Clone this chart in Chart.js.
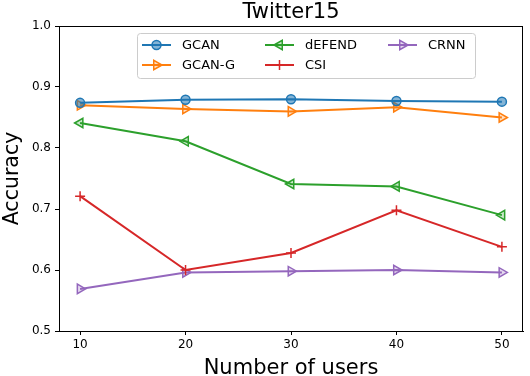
<!DOCTYPE html>
<html>
<head>
<meta charset="utf-8">
<script src="https://cdn.jsdelivr.net/npm/chart.js@4"></script>
<style>
  body { margin: 0; background: #fff; }
  #wrap { width: 530px; height: 376px; position: relative; }
</style>
</head>
<body>
<div id="wrap"><canvas id="myChart"></canvas></div>
<script>
const users = [10, 20, 30, 40, 50]
const xTicks = [10, 20, 30, 40, 50]
const yTicks = [0.5, 0.6, 0.7, 0.8, 0.9, 1.0]

const gcan = [0.874, 0.879, 0.880, 0.877, 0.876]
const gcanG = [0.870, 0.864, 0.860, 0.867, 0.850]
const defend = [0.841, 0.811, 0.741, 0.737, 0.690]
const csi = [0.721, 0.600, 0.628, 0.698, 0.638]
const crnn = [0.569, 0.596, 0.598, 0.600, 0.596]

const titleText = 'Twitter15'
const font = "'DejaVu Sans', sans-serif"

function pts(vals) {
  return vals.map((v, i) => ({ x: users[i], y: v }))
}

function series(label, vals, color, fill, style, rot, r) {
  return {
    label: label,
    data: pts(vals),
    borderColor: color,
    backgroundColor: color,
    borderWidth: 2,
    pointStyle: style,
    rotation: rot,
    pointRadius: r,
    pointBorderColor: color,
    pointBackgroundColor: fill,
    pointBorderWidth: 1.5,
    tension: 0
  }
}

// legend in matplotlib column order, drawn inside the plot
const legendBox = {
  id: 'legendBox',
  afterDatasetsDraw(chart) {
    const c = chart.ctx
    const a = chart.chartArea
    const x0 = a.left + 78, y0 = a.top + 7, w = 338, h = 45
    c.save()
    c.fillStyle = 'rgba(255,255,255,0.85)'
    c.strokeStyle = '#cccccc'
    c.lineWidth = 1
    c.beginPath()
    c.roundRect(x0 + 0.5, y0 + 0.5, w, h, 3)
    c.fill()
    c.stroke()
    const cols = [x0 + 5, x0 + 128, x0 + 251]
    const rows = [y0 + 12, y0 + 32]
    const order = [[0, 0, 0], [1, 0, 1], [2, 1, 0], [3, 1, 1], [4, 2, 0]]
    c.font = '13px ' + font
    c.textBaseline = 'middle'
    order.forEach(([di, col, row]) => {
      const ds = chart.data.datasets[di]
      const lx = cols[col], ly = rows[row]
      c.strokeStyle = ds.borderColor
      c.lineWidth = 2
      c.beginPath()
      c.moveTo(lx, ly)
      c.lineTo(lx + 29, ly)
      c.stroke()
      c.lineWidth = ds.pointBorderWidth
      c.fillStyle = ds.pointBackgroundColor
      Chart.helpers.drawPoint(c, {
        pointStyle: ds.pointStyle,
        rotation: ds.rotation,
        radius: ds.pointRadius,
        borderWidth: ds.pointBorderWidth
      }, lx + 14.5, ly)
      c.fillStyle = '#000'
      c.fillText(ds.label, lx + 40, ly + 1)
    })
    c.restore()
  }
}

// frame on all four sides and title centred over the plot
const frame = {
  id: 'frame',
  afterDraw(chart) {
    const c = chart.ctx
    const a = chart.chartArea
    c.save()
    c.strokeStyle = '#000'
    c.lineWidth = 1
    c.strokeRect(a.left + 0.5, a.top + 0.5, a.right - a.left - 1, a.bottom - a.top)
    c.fillStyle = '#000'
    c.font = '21px ' + font
    c.textAlign = 'center'
    c.textBaseline = 'alphabetic'
    c.fillText(titleText, (a.left + a.right) / 2, a.top - 8)
    c.restore()
  }
}

const ctx = document.getElementById('myChart')

new Chart(ctx, {
  type: 'line',
  data: {
    datasets: [
      series('GCAN', gcan, '#1f77b4', 'rgba(31,119,180,0.55)', 'circle', 0, 4.5),
      series('GCAN-G', gcanG, '#ff7f0e', 'rgba(255,127,14,0.25)', 'triangle', 90, 5.5),
      series('dEFEND', defend, '#2ca02c', 'rgba(44,160,44,0.25)', 'triangle', 270, 5.5),
      series('CSI', csi, '#d62728', '#d62728', 'cross', 0, 5),
      series('CRNN', crnn, '#9467bd', 'rgba(148,103,189,0.25)', 'triangle', 90, 5.5)
    ]
  },
  options: {
    responsive: true,
    maintainAspectRatio: false,
    animation: false,
    devicePixelRatio: 1,
    layout: { padding: { top: 26, right: 1, left: 0, bottom: 0 } },
    plugins: {
      legend: { display: false },
      tooltip: { enabled: false },
      title: { display: false }
    },
    scales: {
      x: {
        type: 'linear',
        min: 8,
        max: 52,
        afterBuildTicks: s => { s.ticks = xTicks.map(v => ({ value: v })) },
        afterFit: s => { s.height = 45 },
        grid: { drawOnChartArea: false, color: '#000', tickLength: 4, tickWidth: 1 },
        border: { color: '#000', width: 1 },
        ticks: { color: '#000', font: { family: font, size: 12 }, padding: 3, maxRotation: 0 },
        title: {
          display: true,
          text: 'Number of users',
          color: '#000',
          font: { family: font, size: 21 },
          padding: { top: 0, bottom: -5 }
        }
      },
      y: {
        min: 0.5,
        max: 1.0,
        afterBuildTicks: s => { s.ticks = yTicks.map(v => ({ value: v })) },
        afterFit: s => { s.width = 59 },
        grid: { drawOnChartArea: false, color: '#000', tickLength: 4, tickWidth: 1 },
        border: { color: '#000', width: 1 },
        ticks: {
          color: '#000',
          font: { family: font, size: 12 },
          padding: 4,
          callback: v => v.toFixed(1)
        },
        title: {
          display: true,
          text: 'Accuracy',
          color: '#000',
          font: { family: font, size: 20.5 },
          padding: { top: 0, bottom: 1 }
        }
      }
    }
  },
  plugins: [legendBox, frame]
})
</script>
</body>
</html>
